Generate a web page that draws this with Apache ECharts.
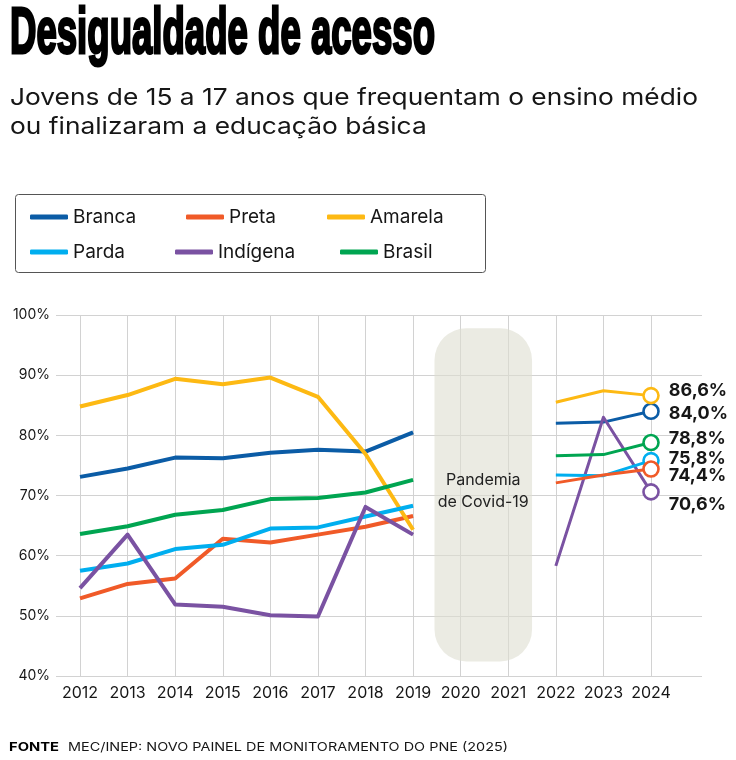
<!DOCTYPE html>
<html>
<head>
<meta charset="utf-8">
<style>
  html, body { margin: 0; padding: 0; background: #fff; }
  #chart { width: 736px; height: 760px; }
</style>
<script src="https://cdn.jsdelivr.net/npm/echarts@6/dist/echarts.min.js"></script>
</head>
<body>
<div id="chart"></div>
<script>
// anos do eixo x
const years = [2012, 2013, 2014, 2015, 2016, 2017, 2018, 2019, 2020, 2021, 2022, 2023, 2024];
const yTicks = [40, 50, 60, 70, 80, 90, 100];

// % de jovens de 15 a 17 anos (null = sem dado na pandemia)
const branca   = [73.1, 74.5, 76.3, 76.2, 77.1, 77.6, 77.3, 80.5, null, null, 82.0, 82.2, 84.0];
const preta    = [52.9, 55.3, 56.2, 62.8, 62.2, 63.5, 64.8, 66.6, null, null, 72.1, 73.4, 74.4];
const amarela  = [84.8, 86.7, 89.4, 88.5, 89.6, 86.4, 76.9, 64.3, null, null, 85.5, 87.4, 86.6];
const parda    = [57.5, 58.7, 61.1, 61.8, 64.5, 64.7, 66.5, 68.3, null, null, 73.4, 73.3, 75.8];
const indigena = [54.6, 63.5, 51.9, 51.5, 50.1, 49.9, 68.1, 63.5, null, null, 58.3, 83.0, 70.6];
const brasil   = [63.6, 64.9, 66.8, 67.6, 69.4, 69.6, 70.5, 72.6, null, null, 76.6, 76.8, 78.8];

// faixa da pandemia: [ano inicio, ano fim, % baixo, % alto, % do texto]
const pandemicBox = [[2019.45, 2021.5, 42.4, 97.8, 70.7]];

const groups = [
  { name: 'Branca',   data: branca,   color: '#0B5CA6', dy: 2,    z: 4 },
  { name: 'Preta',    data: preta,    color: '#F05A28', dy: 6.5,  z: 6 },
  { name: 'Amarela',  data: amarela,  color: '#FDB913', dy: -5,   z: 4 },
  { name: 'Parda',    data: parda,    color: '#00AEEF', dy: -2,   z: 5 },
  { name: 'Indígena', data: indigena, color: '#7A52A2', dy: 12.6, z: 4 },
  { name: 'Brasil',   data: brasil,   color: '#00A551', dy: -4,   z: 4 }
];

const legendWidths = { 'Branca': 72, 'Preta': 57, 'Amarela': 84, 'Parda': 61, 'Indígena': 81, 'Brasil': 57 };

const FONT = 'Inter, "Liberation Sans", sans-serif';
const TEXT = '#161616';
const GRID = '#d2d2d2';

const measure = document.createElement('canvas').getContext('2d');
function fitScale(text, font, width) {
  measure.font = font;
  return width / measure.measureText(text).width;
}

function pct(v) {
  return v.toFixed(1).replace('.', ',') + '%';
}

let series = [];
groups.forEach((g) => {
  let early = [];
  let late = [];
  years.forEach((yr, i) => {
    if (g.data[i] == null) return;
    if (yr <= 2019) early.push([yr, g.data[i]]);
    else late.push([yr, g.data[i]]);
  });
  let lastIdx = late.length - 1;
  series.push({
    name: g.name,
    type: 'line',
    xAxisIndex: 1,
    yAxisIndex: 1,
    data: early,
    symbol: 'none',
    color: g.color,
    lineStyle: { width: 4, color: g.color, join: 'round' },
    emphasis: { disabled: true },
    silent: true,
    z: 3
  });
  series.push({
    name: g.name,
    type: 'line',
    xAxisIndex: 1,
    yAxisIndex: 1,
    color: g.color,
    data: late.map((p, i) => {
      if (i !== lastIdx) return { value: p, symbol: 'none' };
      return {
        value: p,
        symbol: 'circle',
        symbolSize: 15,
        itemStyle: { color: '#fff', borderColor: g.color, borderWidth: 2.6 },
        label: {
          show: true,
          position: 'right',
          distance: 9,
          offset: [0, g.dy],
          formatter: (params) => pct(params.value[1]),
          fontFamily: FONT,
          fontWeight: 'bold',
          fontSize: 18,
          color: TEXT
        }
      };
    }),
    lineStyle: { width: 3, color: g.color, join: 'round' },
    emphasis: { disabled: true },
    silent: true,
    z: g.z
  });
});

series.push({
  type: 'custom',
  xAxisIndex: 1,
  yAxisIndex: 1,
  silent: true,
  z: 1,
  data: pandemicBox,
  encode: { x: [0, 1], y: [2, 3] },
  renderItem: (params, api) => {
    let p0 = api.coord([api.value(0), api.value(3)]);
    let p1 = api.coord([api.value(1), api.value(2)]);
    let ty = api.coord([api.value(0), api.value(4)])[1];
    return {
      type: 'group',
      children: [
        {
          type: 'rect',
          shape: { x: p0[0], y: p0[1], width: p1[0] - p0[0], height: p1[1] - p0[1], r: 32 },
          style: { fill: 'rgba(222,222,208,0.6)' }
        },
        {
          type: 'text',
          x: (p0[0] + p1[0]) / 2,
          y: ty,
          style: {
            text: 'Pandemia\nde Covid-19',
            fill: '#222',
            font: '16px ' + FONT,
            lineHeight: 22,
            align: 'center',
            verticalAlign: 'middle'
          }
        }
      ]
    };
  }
});

function legendRow(names, top) {
  return {
    top: top,
    left: 30,
    padding: 0,
    orient: 'horizontal',
    icon: 'roundRect',
    itemWidth: 38,
    itemHeight: 5,
    itemGap: 41,
    selectedMode: false,
    textStyle: { fontFamily: FONT, fontSize: 19, color: TEXT, lineHeight: 20 },
    data: names.map((n) => ({ name: n, textStyle: { width: legendWidths[n] } }))
  };
}

const titleFont = 'bold 65px "Liberation Sans Narrow", "Liberation Sans", sans-serif';
const subFont = '23px ' + FONT;
const sub1 = 'Jovens de 15 a 17 anos que frequentam o ensino médio';
const sub2 = 'ou finalizaram a educação básica';
const subScale = fitScale(sub1, subFont, 688);
const srcBold = 'bold 12px ' + FONT;
const srcFont = '12px ' + FONT;
const srcText = 'MEC/INEP: NOVO PAINEL DE MONITORAMENTO DO PNE (2025)';

const chart = echarts.init(document.getElementById('chart'), null, { renderer: 'canvas' });

const option = {
  animation: false,
  backgroundColor: '#fff',
  grid: [
    { left: 56, right: 34, top: 315, bottom: 84 },
    { left: 80, right: 85, top: 315, bottom: 84 }
  ],
  xAxis: [
    { gridIndex: 0, type: 'value', min: 0, max: 1, show: false },
    {
      gridIndex: 1,
      type: 'value',
      min: years[0],
      max: years[years.length - 1],
      interval: 1,
      axisLine: { show: false },
      axisTick: { show: false },
      axisLabel: { margin: 9, fontFamily: FONT, fontSize: 16, color: TEXT, formatter: (v) => String(v) },
      splitLine: { show: true, lineStyle: { color: GRID, width: 1 } }
    }
  ],
  yAxis: [
    {
      gridIndex: 0,
      type: 'value',
      min: yTicks[0],
      max: yTicks[yTicks.length - 1],
      interval: 10,
      axisLine: { show: false },
      axisTick: { show: false },
      axisLabel: { margin: 6, fontFamily: FONT, fontSize: 14, color: TEXT, formatter: '{value}%' },
      splitLine: { show: true, lineStyle: { color: GRID, width: 1 } }
    },
    { gridIndex: 1, type: 'value', min: yTicks[0], max: yTicks[yTicks.length - 1], show: false }
  ],
  legend: [
    legendRow(['Branca', 'Preta', 'Amarela'], 207),
    legendRow(['Parda', 'Indígena', 'Brasil'], 242)
  ],
  graphic: [
    {
      type: 'text',
      x: 10,
      y: 35,
      scaleX: fitScale('Desigualdade de acesso', titleFont, 425),
      style: {
        text: 'Desigualdade de acesso',
        font: titleFont,
        fill: '#000',
        stroke: '#000',
        lineWidth: 3,
        align: 'left',
        verticalAlign: 'middle'
      }
    },
    {
      type: 'text',
      x: 10,
      y: 98,
      scaleX: subScale,
      style: { text: sub1, font: subFont, fill: TEXT, align: 'left', verticalAlign: 'middle' }
    },
    {
      type: 'text',
      x: 10,
      y: 127,
      scaleX: subScale,
      style: { text: sub2, font: subFont, fill: TEXT, align: 'left', verticalAlign: 'middle' }
    },
    {
      type: 'rect',
      shape: { x: 15.5, y: 194.5, width: 470, height: 78, r: 3 },
      style: { fill: 'none', stroke: '#555', lineWidth: 1 }
    },
    {
      type: 'text',
      x: 9,
      y: 747,
      scaleX: fitScale('FONTE', srcBold, 50),
      style: { text: 'FONTE', font: srcBold, fill: '#000', align: 'left', verticalAlign: 'middle' }
    },
    {
      type: 'text',
      x: 68,
      y: 747,
      scaleX: fitScale(srcText, srcFont, 440),
      style: { text: srcText, font: srcFont, fill: TEXT, align: 'left', verticalAlign: 'middle' }
    }
  ],
  series: series
};

chart.setOption(option);
</script>
</body>
</html>
